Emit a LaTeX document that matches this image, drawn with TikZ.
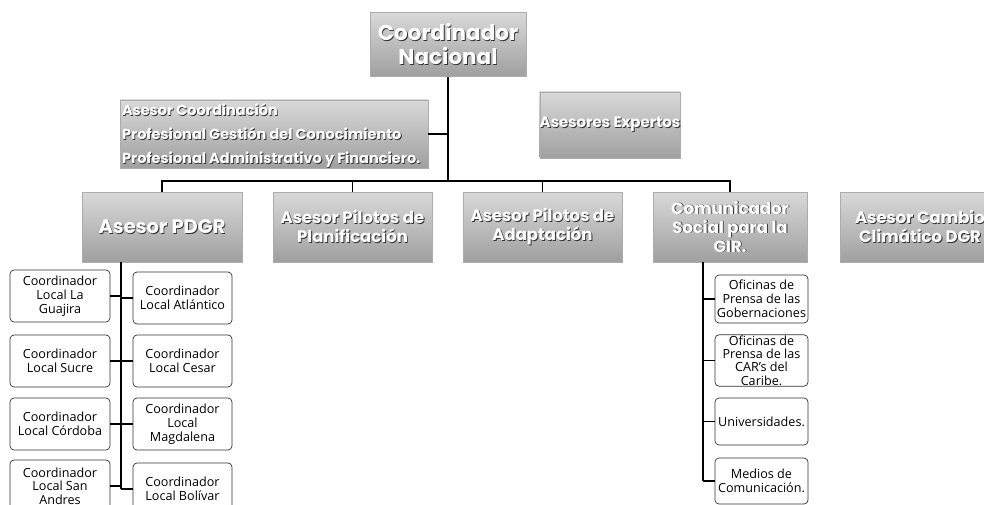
\documentclass[tikz,border=0pt]{standalone}
\usepackage{fontspec}
\setmainfont{Open Sans}
\newfontfamily\headfont{Poppins}
\newcommand\shd[1]{\leavevmode\rlap{\kern0.9pt\raisebox{-0.9pt}{\color{black!80}#1}}#1}
\tikzset{
  head/.style={draw=gray!65, top color=gray!30, bottom color=gray!75, text=white,
    align=center, inner sep=0pt},
  hfont/.style 2 args={font=\headfont\bfseries\fontsize{#1}{#2}\selectfont},
  sub/.style={draw=black!80, line width=0.7pt, rounded corners=4pt, fill=white,
    align=center, inner sep=1pt, font=\fontsize{12.6}{14}\selectfont},
  lbox/.style={sub, minimum width=100pt, minimum height=52pt},
  rbox/.style={sub, minimum width=93pt},
  conn/.style={line width=1.4pt, black},
}
\begin{document}
\begin{tikzpicture}[x=1pt,y=-1pt]
\useasboundingbox (0,0) rectangle (984,505);
\clip (0,0) rectangle (984,505);
% top
\node[head, hfont={21.5}{24}, minimum width=156pt, minimum height=64pt] (cn) at (448,44.5) {\shd{Coordinador}\\\shd{Nacional}};
\node[head, minimum width=308pt, minimum height=68pt] (ac) at (274,134) {};
\node[anchor=west, text=white, align=left, inner sep=0pt,
  font=\headfont\bfseries\fontsize{14.5}{24}\selectfont] (act) at ([xshift=2pt,yshift=-2pt]ac.west)
  {\shd{Asesor Coordinación}\\\shd{Profesional Gestión del Conocimiento}\\\shd{Profesional Administrativo y Financiero.}};
\node[head, hfont={15}{17}, minimum width=140pt, minimum height=66pt] (ae) at (610,125) {\shd{Asesores Expertos}};
% second level
\node[head, hfont={19.5}{22}, minimum width=160pt, minimum height=70pt] (pdgr) at (162,227) {\shd{Asesor PDGR}};
\node[head, hfont={16.5}{19}, minimum width=159pt, minimum height=70pt] (pp) at (352.5,227) {\shd{Asesor Pilotos de}\\\shd{Planificación}};
\node[head, hfont={16.5}{19}, minimum width=159pt, minimum height=70pt] (pa) at (542.5,227) {\shd{Asesor Pilotos de}\\\shd{Adaptación}};
\node[head, hfont={16.5}{19}, minimum width=154pt, minimum height=70pt] (cs) at (730,227) {\shd{Comunicador}\\\shd{Social para la}\\\shd{GIR.}};
\node[head, hfont={16.5}{19}, minimum width=160pt, minimum height=70pt] (acc) at (920,227) {\shd{Asesor Cambio}\\\shd{Climático DGR}};
% connectors top
\coordinate (hj) at (448,181);
\draw[conn] (cn.south) -- (hj);
\draw[conn] (ac.east) -- (ac.east -| hj);
\draw[conn] (pdgr.north) -- (pdgr.north |- hj) -| (cs.north);
\draw[conn] (pp.north) -- (pp.north |- hj);
\draw[conn] (pa.north) -- (pa.north |- hj);
% left column
\node[lbox] (l1) at (60,296) {Coordinador\\Local La\\Guajira};
\node[lbox] (l2) at (60,361) {Coordinador\\Local Sucre};
\node[lbox] (l3) at (60,424) {Coordinador\\Local Córdoba};
\node[lbox, font=\fontsize{12.6}{13.5}\selectfont] (l4) at (60,486) {Coordinador\\Local San\\Andres};
\node[lbox, minimum width=99pt] (r1) at (182.5,298) {Coordinador\\Local Atlántico};
\node[lbox, minimum width=99pt] (r2) at (182.5,361) {Coordinador\\Local Cesar};
\node[lbox, minimum width=99pt] (r3) at (182.5,424) {Coordinador\\Local\\Magdalena};
\node[lbox, minimum width=99pt] (r4) at (182.5,489) {Coordinador\\Local Bolívar};
\coordinate (lt) at (121,262);
\draw[conn] (lt) -- (lt |- r4.west);
\foreach \n in {l1,l2,l3,l4} \draw[conn] (\n.east) -- (\n.east -| lt);
\foreach \n in {r1,r2,r3,r4} \draw[conn] (\n.west) -- (\n.west -| lt);
% right column
\node[rbox, minimum height=48pt] (c1) at (761.5,299) {Oficinas de\\Prensa de las\\Gobernaciones};
\node[rbox, minimum height=49pt, font=\fontsize{12.6}{13.2}\selectfont] (c2) at (761.5,360.5) {Oficinas de\\Prensa de las\\CAR's del\\Caribe.};
\node[rbox, minimum height=47pt] (c3) at (761.5,421.5) {Universidades.};
\node[rbox, minimum height=46pt] (c4) at (761.5,481) {Medios de\\Comunicación.};
\coordinate (rt) at (703,262);
\draw[conn] (rt) -- (rt |- c4.west);
\foreach \n in {c1,c2,c3,c4} \draw[conn] (\n.west) -- (\n.west -| rt);
\end{tikzpicture}
\end{document}
